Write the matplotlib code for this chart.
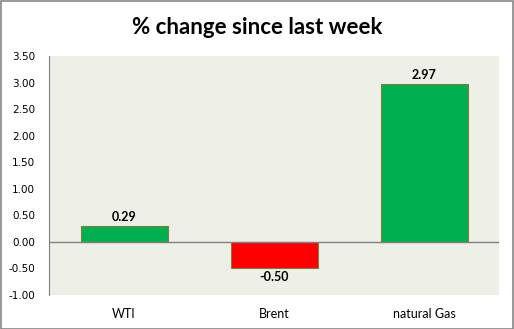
import matplotlib.pyplot as plt
from matplotlib.patches import Rectangle

# Data
categories = ['WTI', 'Brent', 'natural Gas']
changes = [0.29, -0.50, 2.97]
bar_colors = ['#00B050', '#FF0000', '#00B050']
yticks = [-1.0, -0.5, 0.0, 0.5, 1.0, 1.5, 2.0, 2.5, 3.0, 3.5]

W, H = 514, 329
fig = plt.figure(figsize=(W / 100, H / 100), dpi=100)
fig.patch.set_facecolor('white')

# plot area in pixel coords
left, right, top, bottom = 49, 499, 56, 295
ax = fig.add_axes([left / W, 1 - bottom / H, (right - left) / W, (bottom - top) / H])
ax.set_facecolor('#EEF0E8')

x = range(len(categories))
ax.bar(x, changes, width=0.58, color=bar_colors, edgecolor='#857A3C', linewidth=0.8, zorder=3)
ax.axhline(0, color='#808080', linewidth=1, zorder=4)

ax.set_xlim(-0.5, 2.5)
ax.set_ylim(-1.0, 3.5)
ax.set_yticks(yticks)
ax.set_yticklabels([f'{v:.2f}' for v in yticks], family='DejaVu Sans', fontsize=7.5)
ax.set_xticks(list(x))
ax.set_xticklabels(categories, family='Lato', fontsize=9)
ax.tick_params(axis='y', length=0, pad=10)
ax.tick_params(axis='x', length=0, pad=9)

for s in ['top', 'right', 'bottom']:
    ax.spines[s].set_visible(False)
ax.spines['left'].set_color('#808080')

for i, v in enumerate(changes):
    off = 0.17 if v >= 0 else -0.17
    ax.text(i, v + off, f'{v:.2f}', ha='center', va='center',
            fontsize=9, fontweight='bold', family='Lato')

fig.text(0.5, 1 - 27 / H, '% change since last week', ha='center', va='center',
         fontsize=16, fontweight='bold', family='Lato')

# outer border
fig.patches.append(Rectangle((0.5 / W, 0.5 / H), 1 - 1.5 / W, 1 - 1.5 / H,
                             transform=fig.transFigure, fill=False,
                             edgecolor='#868686', linewidth=1.2))

fig.savefig('out.png', dpi=100)
